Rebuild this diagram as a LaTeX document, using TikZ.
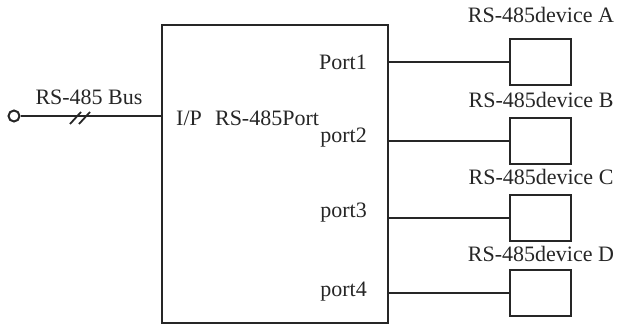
\documentclass[tikz,border=0pt]{standalone}
\usepackage{fontspec}
\setmainfont{Liberation Serif}
\begin{document}
\begin{tikzpicture}[x=1pt,y=-1pt,
  lbl/.style={font=\fontsize{22}{25}\selectfont, inner sep=0pt, text=black!85},
  mainbox/.style={draw=black!85, line width=2.2pt, minimum width=226pt, minimum height=298pt, inner sep=0pt},
  devbox/.style={draw=black!85, line width=2pt, minimum width=61pt, minimum height=46pt, inner sep=0pt},
  wire/.style={draw=black!85, line width=2pt}]
\useasboundingbox (0,0) rectangle (620,326);
% main box
\node[mainbox] (main) at (275,174) {};
\node[lbl, anchor=west] (ip) at (176,118) {I/P\hspace{0.6em}RS-485Port};
% ports
\node[lbl, anchor=east] (p1) at (367,62) {Port1};
\node[lbl, anchor=east] (p2) at (367,138) {port2};
\node[lbl, anchor=east] (p3) at (367,213) {port3};
\node[lbl, anchor=east] (p4) at (367,292) {port4};
% devices
\node[devbox] (dA) at (540.5,62) {};
\node[devbox] (dB) at (540.5,140.5) {};
\node[devbox] (dC) at (540.5,218) {};
\node[devbox] (dD) at (540.5,292.5) {};
\node[lbl] (lA) at (541,15) {RS-485device A};
\node[lbl] (lB) at (541,100) {RS-485device B};
\node[lbl] (lC) at (541,177) {RS-485device C};
\node[lbl] (lD) at (541,254) {RS-485device D};
\foreach \d in {dA,dB,dC,dD}
  \draw[wire] (\d.west -| main.east) -- (\d.west);
% bus
\node[draw=black!85, line width=2pt, circle, minimum size=11pt, inner sep=0pt] (term) at (14,116) {};
\coordinate (busend) at (main.west |- term);
\draw[wire] (term.east) -- (busend);
\coordinate (sl) at (81,118);
\draw[wire, line width=1.8pt] ([shift={(-11,6)}]sl) -- ([shift={(0,-6)}]sl);
\draw[wire, line width=1.8pt] ([shift={(-2,6)}]sl) -- ([shift={(9,-6)}]sl);
\node[lbl] (bus) at (89,97) {RS-485 Bus};
\end{tikzpicture}
\end{document}
